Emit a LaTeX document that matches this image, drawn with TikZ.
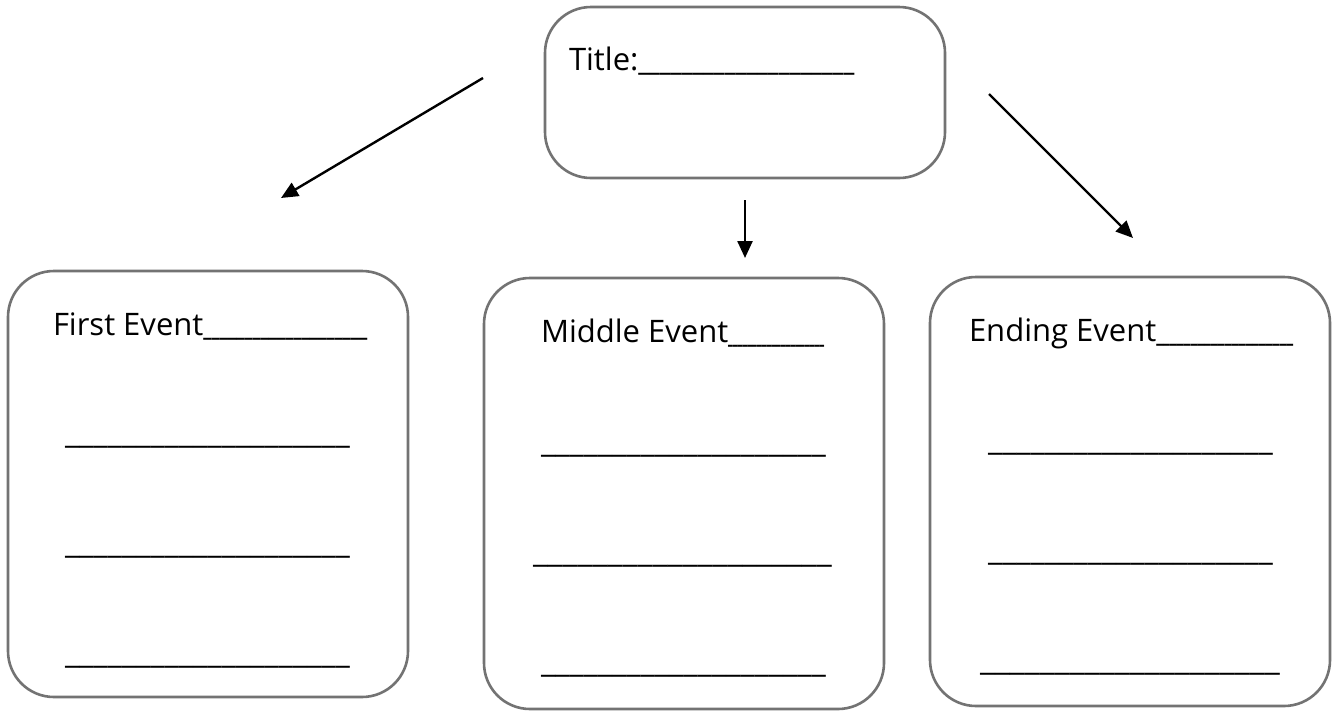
\documentclass[tikz,border=0pt]{standalone}
\usepackage{fontspec}
\setmainfont{Open Sans}
\usepackage{graphicx}
\usetikzlibrary{arrows.meta}
\newcommand{\blankline}[1]{\resizebox*{#1}{\totalheight}{\_\_\_\_\_\_\_\_\_\_\_\_\_\_\_\_\_\_\_\_}}
\begin{document}
\begin{tikzpicture}[x=1pt,y=-1pt,
  box/.style={draw=gray!90!black, line width=2.6pt, rounded corners=46pt, inner sep=0pt, outer sep=0pt},
  txt/.style={inner sep=0pt, outer sep=0pt, anchor=base west, font=\fontsize{31}{36}\selectfont},
  arr/.style={line width=2.4pt, -{Triangle[length=17pt,width=15pt]}}]
\useasboundingbox (0,0) rectangle (1341,718);
\fill[white] (0,0) rectangle (1341,718);
% boxes
\node[box, minimum width=400pt, minimum height=171pt] (title) at (745,92.5) {};
\node[box, minimum width=400pt, minimum height=426pt] (first) at (208,484) {};
\node[box, minimum width=400pt, minimum height=431pt] (middle) at (684,493.5) {};
\node[box, minimum width=400pt, minimum height=429pt] (ending) at (1130,491.5) {};
% title text
\node[txt] (tt) at (569,70) {Title:\blankline{216pt}};
% first
\node[txt] (f0) at (53,335) {First Event\blankline{164pt}};
\node[txt] (f1) at (65,443) {\blankline{285pt}};
\node[txt] (f2) at (65,553) {\blankline{285pt}};
\node[txt] (f3) at (65,663) {\blankline{285pt}};
% middle
\node[txt] (m0) at (541,342) {Middle Event\blankline{96pt}};
\node[txt] (m1) at (541,452) {\blankline{285pt}};
\node[txt] (m2) at (533,562) {\blankline{299pt}};
\node[txt] (m3) at (541,672) {\blankline{285pt}};
% ending
\node[txt] (e0) at (969,341) {Ending Event\blankline{137pt}};
\node[txt] (e1) at (988,450) {\blankline{285pt}};
\node[txt] (e2) at (988,560) {\blankline{285pt}};
\node[txt] (e3) at (980,670) {\blankline{300pt}};
% arrows
\coordinate (a1s) at (483,78);
\coordinate (a1e) at (281,198);
\coordinate (a2s) at (745,200);
\coordinate (a2e) at (745,258);
\coordinate (a3s) at (989,94);
\coordinate (a3e) at (1133,238);
\draw[arr] (a1s) -- (a1e);
\draw[arr] (a2s) -- (a2e);
\draw[arr] (a3s) -- (a3e);
\end{tikzpicture}
\end{document}
